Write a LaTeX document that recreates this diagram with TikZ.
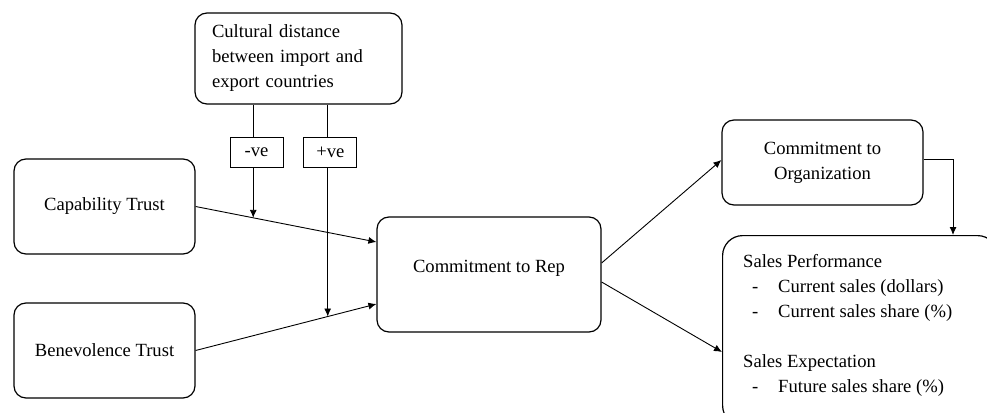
\documentclass[tikz,border=0pt]{standalone}
\usepackage{fontspec}
\setmainfont{Liberation Serif}
\usetikzlibrary{arrows.meta,calc}

\begin{document}
\begin{tikzpicture}[x=1pt, y=-1pt, font=\fontsize{18.6}{25}\selectfont,
    box/.style={draw, rounded corners=12pt, line width=1.2pt, align=center, inner sep=0pt},
    signbox/.style={draw, line width=0.8pt, minimum width=53pt, minimum height=30pt, inner sep=0pt},
    arr/.style={-{Latex[length=8pt,width=7pt]}, line width=0.9pt}]
    \useasboundingbox (0,0) rectangle (987,412);

    % Nodes
    \node[box, minimum width=207pt, minimum height=91pt, text width=173pt, align=left] (C) at (298.5,58.5) {Cultural distance\\ between import and\\ export countries};
    \node[box, minimum width=181pt, minimum height=95pt] (CT) at (104.5,206.5) {Capability Trust};
    \node[box, minimum width=181pt, minimum height=95pt] (BT) at (104.5,350.5) {Benevolence Trust};
    \node[box, minimum width=224pt, minimum height=115pt, text depth=16pt] (R) at (489,274.5) {Commitment to Rep};
    \node[box, minimum width=201pt, minimum height=85pt] (O) at (822.5,162.5) {Commitment to\\ Organization};
    \node[box, rounded corners=20pt, anchor=north west, minimum width=275pt, minimum height=190pt] (S) at (722,235) {};
    \node[anchor=north west, inner sep=0pt, align=left] (ST) at ([xshift=21pt,yshift=-19pt]S.north west)
        {Sales Performance\\
         \hspace*{9pt}\makebox[26pt][l]{-}Current sales (dollars)\\
         \hspace*{9pt}\makebox[26pt][l]{-}Current sales share (\%)\\[25pt]
         Sales Expectation\\
         \hspace*{9pt}\makebox[26pt][l]{-}Future sales share (\%)};
    \node[signbox] (neg) at (256.5,152) {-ve};
    \node[signbox] (pos) at (330.3,152) {+ve};

    % Edges
    \coordinate (CTin) at ([yshift=32.5pt]R.west);
    \coordinate (BTin) at ([yshift=-29.5pt]R.west);
    \coordinate (mneg) at ($(CT.east)!0.3187!(CTin)$);
    \coordinate (mpos) at ($(BT.east)!0.7308!(BTin)$);
    \draw[arr] (CT.east) -- (CTin);
    \draw[arr] (BT.east) -- (BTin);
    \draw[line width=0.9pt] (mneg |- C.south) -- (mneg |- neg.north);
    \draw[arr] (mneg |- neg.south) -- (mneg);
    \draw[line width=0.9pt] (mpos |- C.south) -- (mpos |- pos.north);
    \draw[arr] (mpos |- pos.south) -- (mpos);
    \draw[arr] ([yshift=11.5pt]R.east) -- ([yshift=2.5pt]O.west);
    \draw[arr] ([yshift=-7.5pt]R.east) -- ([yshift=-117pt]S.north west);
    \draw[arr] ([yshift=3.5pt]O.east) -| ([xshift=231pt]S.north west);

\end{tikzpicture}
\end{document}
